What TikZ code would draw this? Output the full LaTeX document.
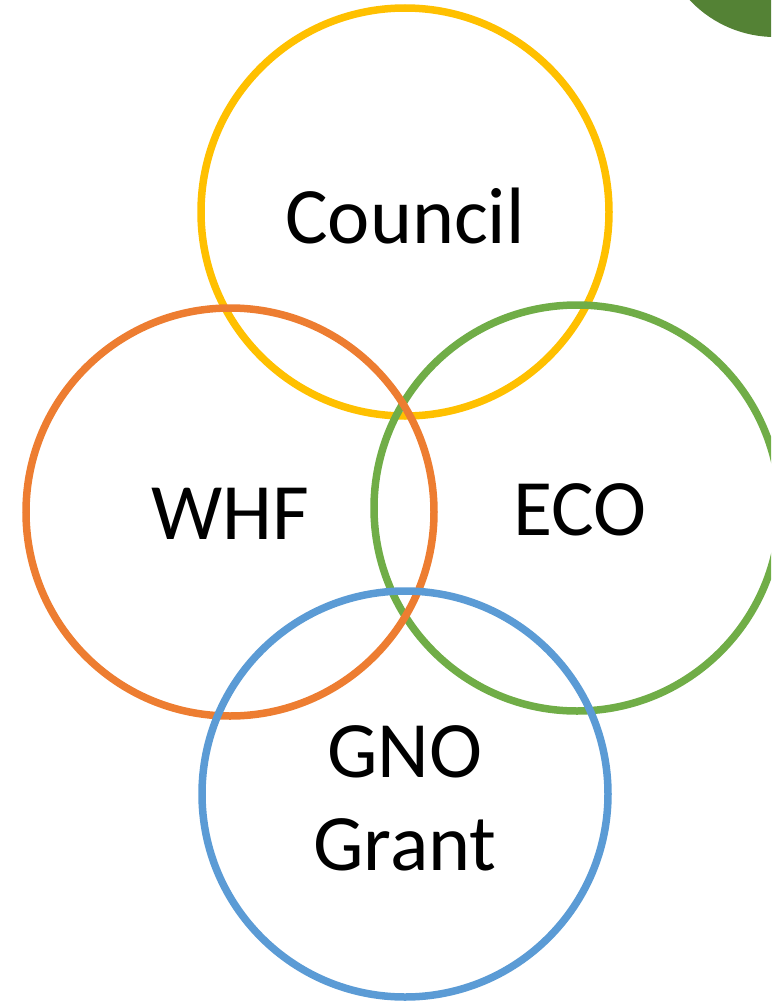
\documentclass[tikz,border=0pt]{standalone}
\usepackage{fontspec}
\setmainfont{Carlito}
\definecolor{cyellow}{HTML}{FFC000}
\definecolor{corange}{HTML}{ED7D31}
\definecolor{cgreen}{HTML}{70AD47}
\definecolor{cblue}{HTML}{5B9BD5}
\definecolor{cdark}{HTML}{548235}
\begin{document}
\begin{tikzpicture}[x=1pt,y=-1pt,
  ring/.style={line width=7.5pt},
  lbl/.style={font=\fontsize{80}{93}\selectfont, align=center, inner sep=0pt}]
\useasboundingbox (0,0) rectangle (771,1001);
\begin{scope}
\clip (0,0) rectangle (771,1001);
\fill[cdark] (775,-80) circle[radius=117];
\draw[ring,cyellow] (405,212) circle[radius=204];
\draw[ring,cgreen] (577,508) circle[radius=203];
\draw[ring,corange] (230,512) circle[radius=204];
\draw[ring,cblue] (405,794) circle[radius=203];
\end{scope}
\node[lbl] (council) at (405,216) {Council};
\node[lbl] (whf) at (230,514) {WHF};
\node[lbl] (eco) at (580,510) {ECO};
\node[lbl] (gno) at (405,798) {GNO\\Grant};
\end{tikzpicture}
\end{document}
